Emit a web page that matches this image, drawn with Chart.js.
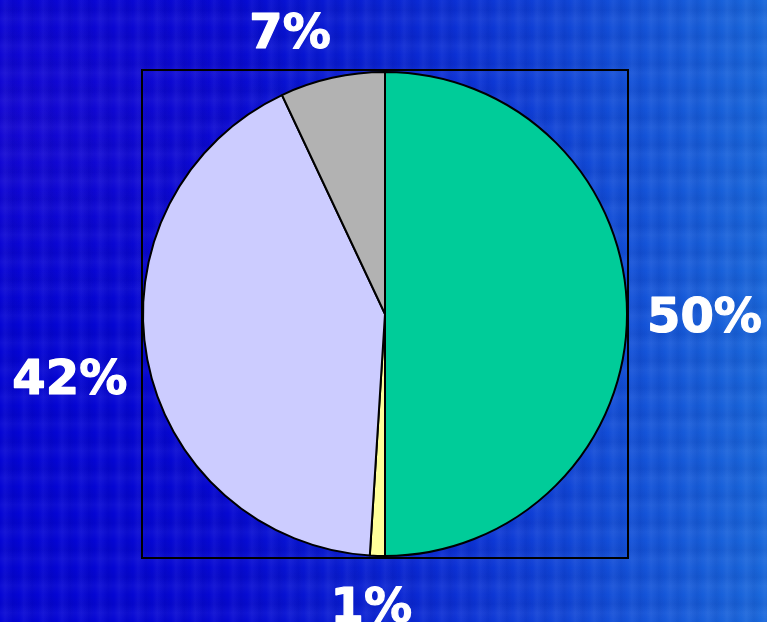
<!DOCTYPE html>
<html>
<head>
<meta charset="utf-8">
<script src="https://cdn.jsdelivr.net/npm/chart.js@4/dist/chart.umd.min.js"></script>
<style>
  html, body { margin: 0; padding: 0; }
  body {
    width: 767px;
    height: 622px;
    overflow: hidden;
    background:
      repeating-linear-gradient(90deg, rgba(255,255,255,0.00) 0px, rgba(255,255,255,0.045) 5px, rgba(0,0,60,0.05) 13px, rgba(255,255,255,0.00) 19px),
      repeating-linear-gradient(0deg, rgba(255,255,255,0.00) 0px, rgba(255,255,255,0.035) 9px, rgba(0,0,60,0.05) 18px, rgba(255,255,255,0.00) 27px),
      radial-gradient(ellipse at 2% 20%, rgba(90,20,210,0.18), rgba(90,20,210,0) 28%),
      linear-gradient(90deg, #0404d4 0%, #0608d2 30%, #0a2ad4 55%, #124ed8 80%, #1a68dc 100%);
  }
  #wrap { position: absolute; left: 0; top: 0; width: 767px; height: 622px; }
</style>
</head>
<body>
<div id="wrap"><canvas id="pieChart" width="767" height="622"></canvas></div>
<script>
const categories = ["A", "B", "C", "D"];
const values = [50, 1, 42, 7];
const sliceLabels = ["50%", "1%", "42%", "7%"];
const sliceColors = ["#00cc99", "#ffff99", "#ccccff", "#b2b2b2"];

// black frame round the plot area
const frame = {
  id: "frame",
  beforeDatasetsDraw(chart) {
    const a = chart.chartArea;
    const ctx = chart.ctx;
    ctx.save();
    ctx.strokeStyle = "#000";
    ctx.lineWidth = 2;
    ctx.strokeRect(a.left, a.top, a.right - a.left, a.bottom - a.top);
    ctx.restore();
  }
};

const clamp1 = v => Math.max(-1, Math.min(1, v));

// percent labels placed outside each slice
const outsideLabels = {
  id: "outsideLabels",
  afterDatasetsDraw(chart) {
    const ctx = chart.ctx;
    const meta = chart.getDatasetMeta(0);
    ctx.save();
    ctx.font = "bold 48px 'DejaVu Sans'";
    ctx.fillStyle = "#fff";
    ctx.strokeStyle = "#fff";
    ctx.lineWidth = 1.2;
    ctx.lineJoin = "round";
    ctx.textAlign = "center";
    ctx.textBaseline = "alphabetic";
    meta.data.forEach((arc, i) => {
      const p = arc.getProps(["x", "y", "startAngle", "endAngle", "outerRadius"], true);
      const mid = (p.startAngle + p.endAngle) / 2;
      const dx = Math.cos(mid), dy = Math.sin(mid);
      const text = sliceLabels[i];
      const halfW = ctx.measureText(text).width / 2;
      const halfH = 17.5;
      const d = p.outerRadius + 20 + 11 * dy * dy;
      const cx = p.x + dx * d + clamp1(4 * dx) * halfW;
      const cy = p.y + dy * d + clamp1(4 * dy) * halfH;
      ctx.fillText(text, cx, cy + halfH);
      ctx.strokeText(text, cx, cy + halfH);
    });
    ctx.restore();
  }
};

new Chart(document.getElementById("pieChart"), {
  type: "pie",
  data: {
    labels: categories,
    datasets: [{
      data: values,
      backgroundColor: sliceColors,
      borderColor: "#000",
      borderWidth: 2
    }]
  },
  options: {
    responsive: false,
    animation: false,
    layout: { padding: { left: 142, right: 139, top: 70, bottom: 64 } },
    plugins: {
      legend: { display: false },
      tooltip: { enabled: false }
    }
  },
  plugins: [frame, outsideLabels]
});
</script>
</body>
</html>
